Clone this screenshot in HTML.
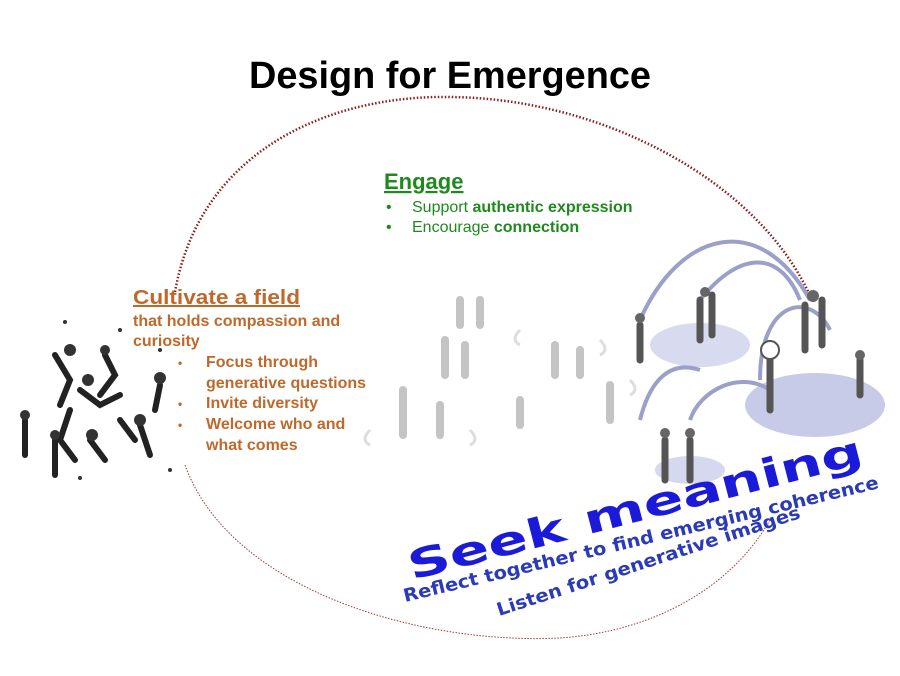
<!DOCTYPE html>
<html><head><meta charset="utf-8"><style>
body{margin:0;background:#fff;}
svg{display:block}
.o{font-family:"Liberation Sans",sans-serif;font-weight:bold;fill:#c0682a}
.g{font-family:"Liberation Sans",sans-serif;fill:#1e8a1e}
</style></head><body>
<svg width="900" height="676" viewBox="0 0 900 676" xmlns="http://www.w3.org/2000/svg">
<rect width="900" height="676" fill="#fff"/>
<text x="450" y="88" text-anchor="middle" font-family="Liberation Sans,sans-serif" font-weight="bold" font-size="38" fill="#000" textLength="402" lengthAdjust="spacingAndGlyphs">Design for Emergence</text>
<path d="M175,292 C200,150 330,95 450,97 C600,98 760,180 812,300" fill="none" stroke="#8b1a1a" stroke-width="2.5" stroke-dasharray="1.5,2"/>
<path d="M185,465 C230,590 420,645 560,638 C650,632 730,590 770,520" fill="none" stroke="#a33" stroke-width="1" stroke-dasharray="1.5,1.5"/>
<ellipse cx="815" cy="405" rx="70" ry="32" fill="#c8cbe8"/>
<ellipse cx="700" cy="345" rx="50" ry="22" fill="#d8dbef"/>
<ellipse cx="690" cy="470" rx="35" ry="14" fill="#d5d8ee"/>
<g fill="none" stroke="#9aa0c8" stroke-width="4">
<path d="M640,320 C680,230 760,210 810,300"/><path d="M700,300 C740,250 780,250 800,300"/>
<path d="M760,380 C760,300 810,290 830,330"/><path d="M690,420 C700,390 740,370 770,390"/>
<path d="M640,420 C650,380 670,360 700,370"/>
</g>
<g stroke="#555" stroke-width="7" stroke-linecap="round" fill="none">
<path d="M640,325 v35"/><path d="M700,300 v40"/><path d="M712,295 v40"/><path d="M805,305 v45"/><path d="M822,300 v45"/>
<path d="M770,355 v55"/><path d="M860,360 v35"/><path d="M665,440 v40"/><path d="M690,440 v40"/>
</g>
<g fill="#666"><circle cx="640" cy="318" r="5"/><circle cx="705" cy="292" r="5"/><circle cx="813" cy="296" r="6"/><circle cx="770" cy="350" r="9" fill="#fff" stroke="#555" stroke-width="2"/><circle cx="860" cy="355" r="5"/><circle cx="665" cy="433" r="5"/><circle cx="690" cy="433" r="5"/></g>
<g stroke="#c4c4c4" stroke-width="8" stroke-linecap="round" fill="none">
<path d="M460,300 v25"/><path d="M480,300 v25"/><path d="M445,340 v35"/><path d="M465,345 v30"/>
<path d="M403,390 v45"/><path d="M440,405 v30"/><path d="M555,345 v30"/><path d="M580,350 v25"/>
<path d="M520,400 v25"/><path d="M610,385 v35"/>
</g>
<g fill="none" stroke="#ddd" stroke-width="3">
<path d="M370,430 q-10,10 0,15"/><path d="M520,330 q-10,10 0,15"/><path d="M600,340 q10,10 0,15"/>
<path d="M470,430 q10,10 0,15"/><path d="M630,380 q10,10 0,15"/>
</g>
<g stroke="#222" stroke-width="6" stroke-linecap="round" fill="none">
<path d="M55,355 l15,25 l-10,25"/><path d="M80,390 l20,15 l20,-10"/><path d="M105,355 l10,20 l-15,20"/>
<path d="M70,410 l-10,30 l15,20"/><path d="M25,420 v35"/><path d="M55,440 v35"/><path d="M90,440 l15,20"/>
<path d="M120,420 l15,20"/><path d="M140,425 l10,30"/><path d="M160,385 l-5,25"/>
</g>
<g fill="#333"><circle cx="70" cy="350" r="6"/><circle cx="105" cy="350" r="5"/><circle cx="88" cy="380" r="6"/><circle cx="160" cy="378" r="6"/><circle cx="25" cy="415" r="5"/><circle cx="55" cy="435" r="5"/><circle cx="140" cy="420" r="6"/><circle cx="92" cy="435" r="6"/>
<circle cx="65" cy="322" r="2"/><circle cx="120" cy="330" r="2"/><circle cx="160" cy="350" r="2"/><circle cx="80" cy="478" r="2"/><circle cx="170" cy="470" r="2"/></g>
<text x="384" y="189" class="g" font-size="22" font-weight="bold" text-decoration="underline">Engage</text>
<text class="g" font-size="16"><tspan x="386" y="212">•</tspan><tspan x="412" y="212">Support <tspan font-weight="bold">authentic expression</tspan></tspan><tspan x="386" y="232">•</tspan><tspan x="412" y="232">Encourage <tspan font-weight="bold">connection</tspan></tspan></text>
<text x="133" y="304" class="o" font-size="20" text-decoration="underline" textLength="167" lengthAdjust="spacingAndGlyphs">Cultivate a field</text>
<text class="o" font-size="16"><tspan x="133" y="326">that holds compassion and</tspan><tspan x="133" y="346">curiosity</tspan>
<tspan x="178" y="367" font-size="12">•</tspan><tspan x="206" y="367">Focus through</tspan><tspan x="206" y="388">generative questions</tspan>
<tspan x="178" y="408" font-size="12">•</tspan><tspan x="206" y="408">Invite diversity</tspan>
<tspan x="178" y="429" font-size="12">•</tspan><tspan x="206" y="429">Welcome who and</tspan><tspan x="206" y="450">what comes</tspan></text>
<text transform="translate(412,580) rotate(-14.5)" font-family="DejaVu Sans,sans-serif" font-weight="bold" font-size="40" fill="#1a1ad8" textLength="468" lengthAdjust="spacingAndGlyphs">Seek meaning</text>
<text transform="translate(405,602) rotate(-13.5)" font-family="DejaVu Sans,sans-serif" font-weight="bold" font-size="18" fill="#2a3ab8" textLength="488" lengthAdjust="spacingAndGlyphs">Reflect together to find emerging coherence</text>
<text transform="translate(499,616) rotate(-18)" font-family="DejaVu Sans,sans-serif" font-weight="bold" font-size="18" fill="#2a3ab8" textLength="318" lengthAdjust="spacingAndGlyphs">Listen for generative images</text>
</svg>
</body></html>
